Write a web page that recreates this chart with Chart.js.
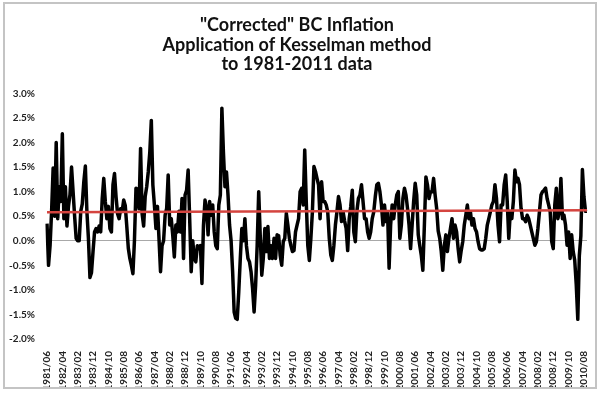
<html>
<head></head>
<body style="margin:0">
<script src="https://cdn.jsdelivr.net/npm/chart.js@4/dist/chart.umd.min.js"></script>
<div style="width:600px;height:394px"><canvas id="myChart" width="600" height="394"></canvas></div>
<script>
// monthly "corrected" inflation, %, starting 1981/06
const inflation = [
  0.35, -0.5, -0.1, 0.6, 1.48, 0.5, 2.0, 0.45, 1.1, 0.8,
  2.18, 0.45, 1.1, 0.3, 0.7, 0.95, 1.5, 1.0, 0.5, 0.05,
  0.0, 0.0, 0.6, 0.75, 1.2, 1.52, 0.6, 0.05, -0.75, -0.65,
  -0.22, 0.18, 0.25, 0.18, 0.3, 0.18, 0.86, 1.27, 0.8, 0.45,
  0.7, 0.25, 0.18, 1.14, 1.37, 0.9, 0.55, 0.45, 0.65, 0.6,
  0.83, 0.72, 0.3, -0.15, -0.36, -0.5, -0.67, 0.0, 1.07, 1.05,
  0.65, 1.88, 0.55, 0.3, 0.9, 1.1, 1.4, 1.8, 2.45, 1.14,
  0.73, 0.25, 0.7, 0.05, -0.63, -0.1, 0.0, 0.52, 0.66, 1.34,
  0.32, 0.45, 0.1, -0.33, 0.32, 0.18, 0.6, 0.18, 0.86, -0.36,
  0.93, 1.03, 1.44, 0.45, -0.63, 0.0, -0.36, -0.43, -0.1, -0.16,
  -0.1, -0.87, 0.32, 0.83, 0.66, 0.12, 0.8, 0.52, 0.73, 0.18,
  -0.1, -0.16, 0.73, 0.93, 2.7, 1.8, 1.1, 1.4, 0.93, 0.32,
  0.0, -0.63, -1.45, -1.58, -1.6, -1.04, -0.36, 0.25, 0.0, 0.45,
  -0.1, -0.36, -0.43, -0.63, -0.97, -1.45, -0.9, -0.1, 1.0, 0.1,
  -0.7, -0.36, 0.25, -0.22, 0.29, -0.36, -0.1, -0.36, 0.05, -0.36,
  0.12, 0.1, -0.3, -0.5, -0.02, 0.05, 0.56, 0.32, 0.05, -0.1,
  -0.22, -0.2, 0.18, 0.32, 0.45, 1.0, 1.07, 0.73, 1.85, 0.8,
  -0.1, -0.4, 0.05, 0.59, 1.51, 1.41, 1.27, 1.14, 0.45, 1.2,
  0.8, 0.8, 0.73, 0.59, 0.05, -0.29, -0.4, -0.1, 0.32, 0.59,
  0.9, 0.73, 0.39, 0.59, 0.4, 0.25, -0.2, 0.45, 0.7, 1.03,
  0.18, -0.02, 0.6, 0.86, 0.93, 1.14, 0.8, 0.45, 0.45, 0.18,
  0.05, 0.18, 0.45, 0.59, 0.9, 1.14, 1.17, 1.0, 0.73, 0.32,
  0.73, 0.39, 0.59, -0.56, 0.32, 0.73, 0.45, 0.73, 0.93, 1.0,
  0.05, 0.32, 0.86, 1.07, 0.93, 0.66, 0.32, -0.16, 0.32, 0.8,
  1.17, 0.93, 0.12, -0.1, -0.3, -0.6, 0.32, 1.3, 1.14, 0.86,
  1.0, 1.0, 1.27, 0.93, 0.66, 0.2, 0.05, -0.22, -0.6, -0.1,
  0.12, -0.22, 0.05, 0.25, 0.45, 0.05, 0.32, 0.18, -0.16, -0.43,
  -0.2, -0.02, 0.32, 0.52, 0.73, 0.45, 0.59, 0.32, 0.45, 0.25,
  0.18, -0.02, -0.16, -0.19, -0.19, -0.16, 0.05, 0.32, 0.45, 0.59,
  0.73, 0.8, 1.14, 0.86, 0.32, -0.02, 0.73, 0.73, 1.14, 1.34,
  0.8, 0.05, 0.59, 0.45, 0.8, 1.44, 1.2, 1.27, 1.14, 0.66,
  0.45, 0.45, 0.39, 0.52, 0.45, 0.32, 0.18, 0.05, -0.09, -0.02,
  0.25, 0.59, 0.93, 1.0, 1.03, 1.07, 0.86, 0.73, 0.59, -0.02,
  -0.16, 0.73, 1.07, 0.45, 0.59, 1.27, 0.45, 0.52, 0.32, -0.09,
  0.18, -0.36, 0.12, -0.22, -0.4, -0.9, -1.6, -0.3, 0.1, 1.45,
  0.9, 0.6, 0.6
];
const startYear = 1981, startMonth = 6;
const labelEvery = 10;          // one axis label every 10 months
const trendStart = 0.58, trendEnd = 0.62;   // red line ends
const yTicks = { min: -2, max: 3, step: 0.5 };
const titleLines = ['"Corrected" BC Inflation', 'Application of Kesselman method', 'to 1981-2011 data'];

const labels = inflation.map((_, k) => {
    const m = startMonth - 1 + k;
    return (startYear + Math.floor(m / 12)) + '/' + String(m % 12 + 1).padStart(2, '0');
});
const trend = inflation.map((_, k) => k === 0 ? trendStart : (k === inflation.length - 1 ? trendEnd : null));

// grey frame round the whole picture
const framePlugin = {
    id: 'frame',
    afterDraw(chart) {
        const c = chart.ctx;
        c.save();
        c.strokeStyle = '#c4c4c4';
        c.lineWidth = 2;
        c.strokeRect(4, 3, 592, 385);
        c.restore();
    }
};

const ctx = document.getElementById('myChart').getContext('2d');
const myChart = new Chart(ctx, {
    type: 'line',
    data: {
        labels: labels,
        datasets: [{
            label: 'Trend',
            data: trend,
            spanGaps: true,
            borderColor: '#d4443f',
            borderWidth: 2.5,
            pointRadius: 0,
            order: 0
        }, {
            label: 'Inflation',
            data: inflation,
            borderColor: '#000000',
            borderWidth: 3.5,
            borderJoinStyle: 'round',
            pointRadius: 0,
            tension: 0,
            order: 1
        }]
    },
    options: {
        responsive: false,
        animation: false,
        layout: { padding: { left: 6, right: 12, top: 3, bottom: 6 } },
        plugins: {
            legend: { display: false },
            tooltip: { enabled: false },
            title: {
                display: true,
                text: titleLines,
                color: '#111',
                font: { family: 'Lato', size: 18, weight: 'bold', lineHeight: 1.1 },
                padding: { top: 12, bottom: 19 }
            }
        },
        scales: {
            x: {
                grid: { display: false },
                border: { display: false },
                afterFit: (s) => { s.height = 49; },
                ticks: {
                    autoSkip: false,
                    minRotation: 90,
                    maxRotation: 90,
                    padding: 4,
                    color: '#222',
                    font: { family: 'Lato', size: 10, weight: 'bold' },
                    callback: function (v, i) { return i % labelEvery === 0 ? this.getLabelForValue(v) : null; }
                }
            },
            y: {
                min: yTicks.min,
                max: yTicks.max,
                afterFit: (s) => { s.width = 41; },
                border: { display: false },
                grid: {
                    drawTicks: false,
                    color: (c) => c.tick && c.tick.value === 0 ? '#a8a8a8' : 'rgba(0,0,0,0)'
                },
                ticks: {
                    stepSize: yTicks.step,
                    padding: 12,
                    color: '#222',
                    font: { family: 'Lato', size: 10, weight: 'bold' },
                    callback: (v) => v.toFixed(1) + '%'
                }
            }
        }
    },
    plugins: [framePlugin]
});
</script>
</body>
</html>
